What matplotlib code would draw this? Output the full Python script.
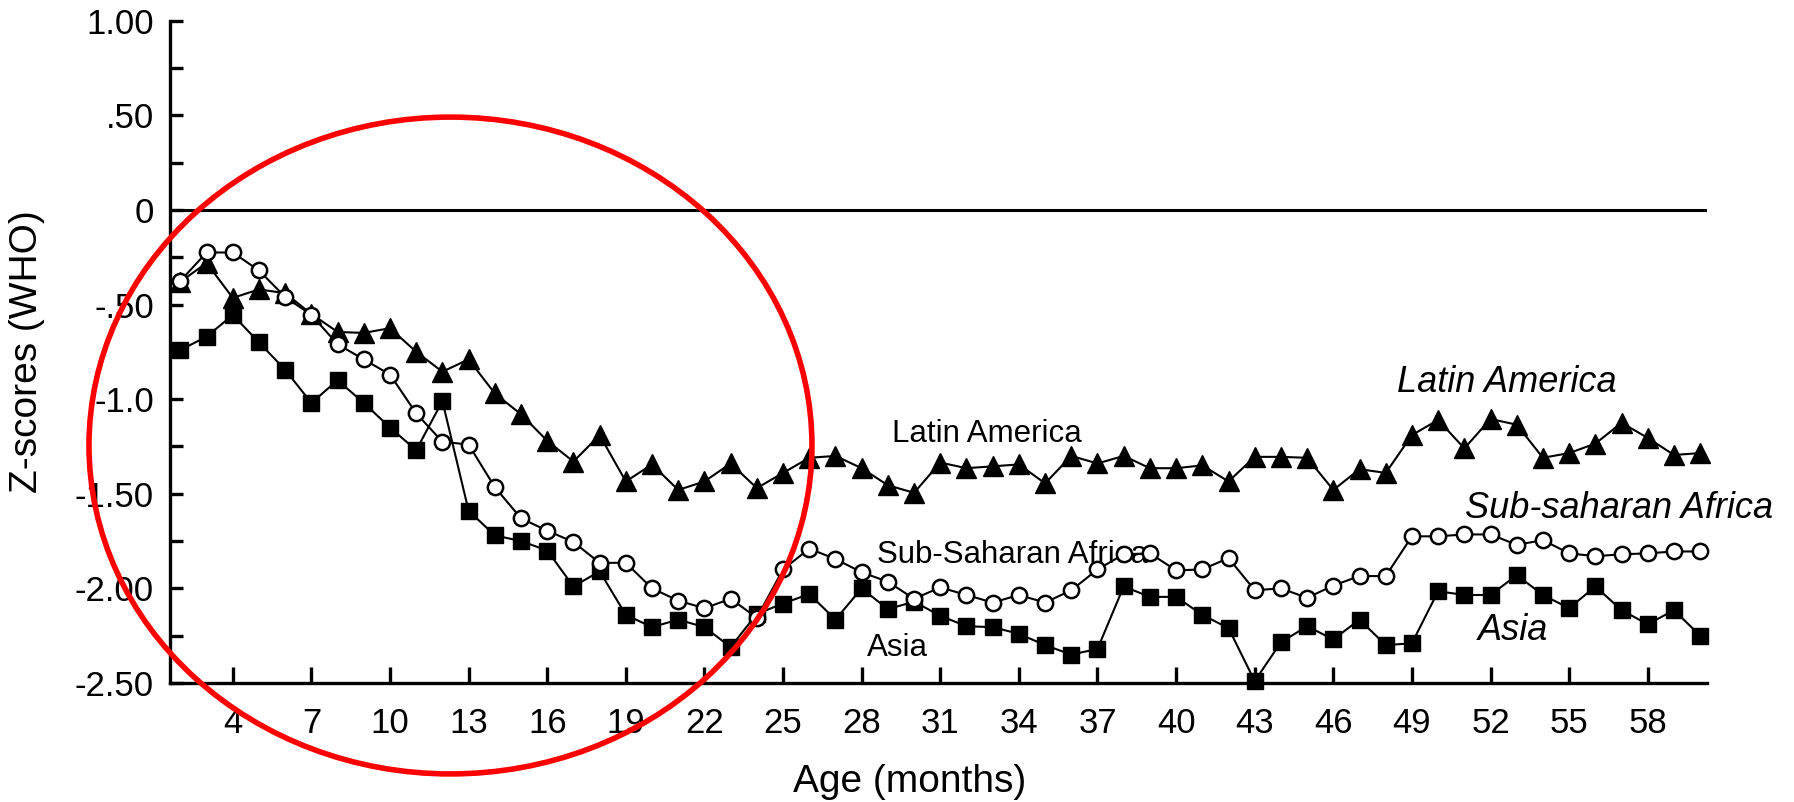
import matplotlib.pyplot as plt
from matplotlib.patches import Ellipse

plt.rcParams['font.family'] = ['Liberation Sans', 'DejaVu Sans']

# data: mean z-scores by age (months 2..60)
months = list(range(2, 61))

latin_america = [-0.38, -0.28, -0.465, -0.42, -0.44, -0.55, -0.645, -0.65, -0.625, -0.75,
                 -0.855, -0.79, -0.97, -1.08, -1.22, -1.33, -1.19, -1.435, -1.345, -1.48,
                 -1.435, -1.34, -1.47, -1.39, -1.31, -1.30, -1.365, -1.455, -1.495, -1.335,
                 -1.365, -1.355, -1.345, -1.445, -1.30, -1.34, -1.30, -1.365, -1.365, -1.35,
                 -1.435, -1.305, -1.305, -1.31, -1.48, -1.37, -1.39, -1.19, -1.11, -1.26,
                 -1.105, -1.135, -1.31, -1.285, -1.235, -1.125, -1.205, -1.295, -1.285]

ss_africa = [-0.375, -0.225, -0.225, -0.32, -0.46, -0.555, -0.71, -0.79, -0.87, -1.075,
             -1.225, -1.24, -1.465, -1.63, -1.695, -1.755, -1.865, -1.865, -2.00, -2.065,
             -2.105, -2.055, -2.155, -1.90, -1.79, -1.845, -1.915, -1.965, -2.055, -1.995,
             -2.035, -2.075, -2.035, -2.075, -2.01, -1.90, -1.82, -1.815, -1.905, -1.90,
             -1.84, -2.01, -2.00, -2.05, -1.985, -1.935, -1.935, -1.725, -1.725, -1.715,
             -1.715, -1.77, -1.745, -1.815, -1.83, -1.82, -1.815, -1.805, -1.805]

asia = [-0.74, -0.67, -0.555, -0.70, -0.845, -1.02, -0.90, -1.02, -1.15, -1.27,
        -1.01, -1.59, -1.72, -1.75, -1.80, -1.99, -1.91, -2.14, -2.205, -2.165,
        -2.205, -2.31, -2.135, -2.08, -2.03, -2.165, -2.00, -2.11, -2.07, -2.145,
        -2.20, -2.205, -2.24, -2.30, -2.35, -2.32, -1.99, -2.045, -2.045, -2.14,
        -2.21, -2.49, -2.285, -2.20, -2.27, -2.165, -2.30, -2.29, -2.015, -2.035,
        -2.035, -1.93, -2.035, -2.105, -1.99, -2.115, -2.19, -2.115, -2.25]

xticks = list(range(4, 59, 3))
yticks = [-2.5, -2.0, -1.5, -1.0, -0.5, 0.0, 0.5, 1.0]
ytick_labels = ['-2.50', '-2.00', '-1.50', '-1.0', '-.50', '0', '.50', '1.00']
yminor = [-2.25, -1.75, -1.25, -0.75, -0.25, 0.25, 0.75]

fig = plt.figure(figsize=(17.94, 8.02), dpi=100)
ax = fig.add_axes([0.0948, 0.1484, 0.8567, 0.8258])

ax.axhline(0, color='black', lw=2.2, zorder=1)

ax.plot(months, latin_america, color='black', lw=1.5, marker='^', ms=14,
        mfc='black', mec='black', clip_on=False, zorder=3)
ax.plot(months, asia, color='black', lw=1.5, marker='s', ms=12,
        mfc='black', mec='black', clip_on=False, zorder=4)
ax.plot(months, ss_africa, color='black', lw=1.5, marker='o', ms=11,
        mfc='white', mec='black', mew=1.8, clip_on=False, zorder=5)

ax.set_xlim(1.607, 60.26)
ax.set_ylim(-2.5, 1.0)

ax.set_xticks(xticks)
ax.set_xticklabels([str(t) for t in xticks])
ax.set_yticks(yticks)
ax.set_yticklabels(ytick_labels)
ax.set_yticks(yminor, minor=True)

for s in ['top', 'right']:
    ax.spines[s].set_visible(False)
for s in ['left', 'bottom']:
    ax.spines[s].set_linewidth(2.4)

ax.tick_params(axis='y', which='both', direction='in', length=9.4, width=2.4,
               labelsize=25, pad=11.5)
ax.tick_params(axis='x', direction='in', length=11.5, width=2.4,
               labelsize=25, pad=17)

ax.set_xlabel('Age (months)', fontsize=28)
ax.xaxis.set_label_coords(0.481, -0.122)
ax.xaxis.label.set_va('top')
ax.set_ylabel('Z-scores (WHO)', fontsize=28)
ax.yaxis.set_label_coords(-0.0813, 0.5)

# labels inside the plot
ax.text(29.15, -1.224, 'Latin America', fontsize=22.5, ha='left', va='baseline')
ax.text(28.58, -1.866, 'Sub-Saharan Africa', fontsize=22.5, ha='left', va='baseline')
ax.text(28.2, -2.356, 'Asia', fontsize=22.5, ha='left', va='baseline')
ax.text(48.44, -0.96, 'Latin America', fontsize=26, style='italic', ha='left', va='baseline')
ax.text(51.03, -1.629, 'Sub-saharan Africa', fontsize=26, style='italic', ha='left', va='baseline')
ax.text(51.53, -2.272, 'Asia', fontsize=26, style='italic', ha='left', va='baseline')

# red highlight ring
ring = Ellipse((0.2511, 0.4445), 0.403, 0.819, transform=fig.transFigure,
               fill=False, edgecolor='#ff0000', lw=4, zorder=10)
fig.add_artist(ring)

plt.savefig('out.png', dpi=100)
